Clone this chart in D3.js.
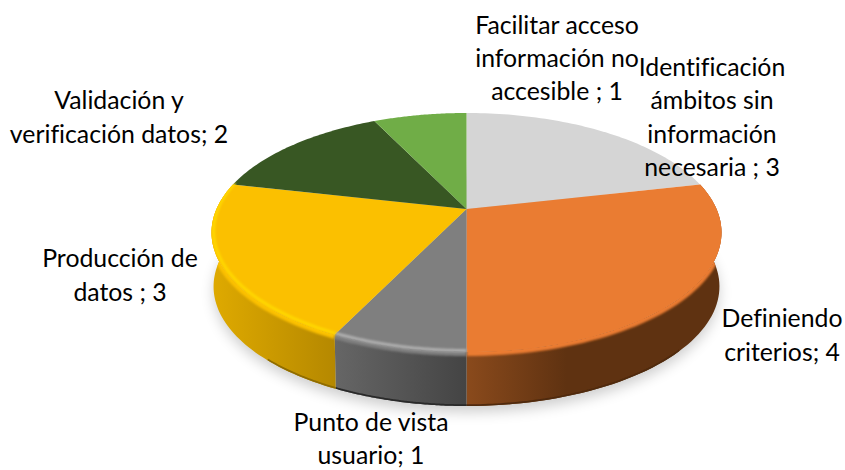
<!DOCTYPE html>
<html>
<head>
<meta charset="utf-8">
<script src="https://cdn.jsdelivr.net/npm/d3@7"></script>
<style>
  html, body { margin: 0; padding: 0; background: #fff; }
  svg { display: block; }
  text { font-family: Lato, "Open Sans", sans-serif; font-size: 24.8px; fill: #000; font-variant-ligatures: none; }
</style>
</head>
<body>
<div id="chart"></div>
<script>
const categories = ['Identificación ámbitos sin información necesaria', 'Definiendo criterios', 'Punto de vista usuario', 'Producción de datos', 'Validación y verificación datos', 'Facilitar acceso información no accesible'];
const values = [3, 4, 1, 3, 2, 1];
const labelLines = [
  ['Identificación', 'ámbitos sin', 'información', 'necesaria ; 3'],
  ['Definiendo', 'criterios; 4'],
  ['Punto de vista', 'usuario; 1'],
  ['Producción de', 'datos ; 3'],
  ['Validación y', 'verificación datos; 2'],
  ['Facilitar acceso', 'información no', 'accesible ; 1']
];
// label block centres, hand placed like in the original
const labelCentres = [[712, 118], [782, 336], [371, 439.5], [120, 276], [119, 118], [557, 59]];
const topColors = ['#d5d5d5', '#ea7c32', '#7f7f7f', '#fbc000', '#385723', '#70ad47'];
const highlightColors = [null, null, '#b0b0b0', '#ffd800', null, null];
const sideColors = [null, ['#8a4a1c', '#5f3211'], ['#666666', '#444444'], ['#dfaa00', '#b58800'], null, null];
const edgeColors = [null, '#4f290d', '#2a2a2a', '#8f6c00', null, null];

const width = 845;
const height = 470;
const svg = d3.select('#chart').append('svg').attr('width', width).attr('height', height);
const defs = svg.append('defs');

// the tilted disc is a perspective projection of a unit circle
const cx = 466.5;
const cy = 209;
const persp = 0.1967;
const scaleX = 250;
const scaleY = 114.9;
const depth = 54;
const bottomShrink = 0.992;

const project = (angle, drop = 0, shrink = 1) => {
  const ux = Math.sin(angle);
  const uy = -Math.cos(angle);
  const w = 1 - persp * uy;
  return [cx + shrink * scaleX * ux / w, cy + scaleY * uy / w + drop];
};

const arcPoints = (a0, a1, drop, shrink) => d3.range(0, 61).map((i) => project(a0 + (a1 - a0) * i / 60, drop, shrink));
const line = d3.line();

const pie = d3.pie().sort(null).value((d) => d);
const slices = pie(values);

const addBlur = (id, amount) => defs.append('filter').attr('id', id)
  .attr('filterUnits', 'userSpaceOnUse').attr('x', 0).attr('y', 0).attr('width', width).attr('height', height)
  .append('feGaussianBlur').attr('stdDeviation', amount);
addBlur('shadow-blur', 7);
addBlur('rim-blur', 1.2);
addBlur('edge-blur', 0.6);

// soft shadow under the disc
svg.append('path')
  .attr('d', line(arcPoints(0, 2 * Math.PI, depth + 6, 0.99)) + 'Z')
  .attr('fill', '#000')
  .attr('opacity', 0.2)
  .attr('filter', 'url(#shadow-blur)');

const visibleFrom = 1.2;
const visibleTo = 2 * Math.PI - 1.2;
const visibleRange = (slice) => [Math.max(slice.startAngle, visibleFrom), Math.min(slice.endAngle, visibleTo)];

// everything of the bevel stays inside the solid shape of the disc
const solidClip = defs.append('clipPath').attr('id', 'solid-clip');
solidClip.append('path').attr('d', line(arcPoints(0, 2 * Math.PI, 0, 1)) + 'Z');

// side walls
slices.forEach((slice, i) => {
  if (!sideColors[i]) return;
  const [a0, a1] = visibleRange(slice);
  const top = arcPoints(a0, a1, 0, 1);
  const bottom = arcPoints(a0, a1, depth, bottomShrink).reverse();
  const outline = line(top.concat(bottom)) + 'Z';
  solidClip.append('path').attr('d', outline);
  const xs = d3.extent(top.concat(bottom), (p) => p[0]);
  const grad = defs.append('linearGradient').attr('id', `side-${i}`).attr('gradientUnits', 'userSpaceOnUse')
    .attr('x1', xs[0]).attr('x2', i === 1 ? xs[0] + 100 : xs[1]).attr('y1', 0).attr('y2', 0);
  grad.append('stop').attr('offset', '0%').attr('stop-color', sideColors[i][0]);
  grad.append('stop').attr('offset', '100%').attr('stop-color', sideColors[i][1]);
  svg.append('path').attr('d', outline).attr('fill', `url(#side-${i})`);
});

const clipped = svg.append('g').attr('clip-path', 'url(#solid-clip)');

// darker line on the lower edge of the wall, only where the wall faces the viewer
const edgeFrom = 2.3;
const edgeTo = 3.9;
slices.forEach((slice, i) => {
  if (!edgeColors[i]) return;
  const a0 = Math.max(slice.startAngle, edgeFrom);
  const a1 = Math.min(slice.endAngle, edgeTo);
  clipped.append('path')
    .attr('d', line(arcPoints(a0, a1, depth - 0.5, bottomShrink)))
    .attr('fill', 'none')
    .attr('stroke', edgeColors[i])
    .attr('stroke-width', 2.5)
    .attr('filter', 'url(#edge-blur)');
});

// bevel band, sits between the face and the wall
slices.forEach((slice, i) => {
  if (!sideColors[i]) return;
  const [a0, a1] = visibleRange(slice);
  clipped.append('path')
    .attr('d', line(arcPoints(a0, a1, 1, 1)))
    .attr('fill', 'none')
    .attr('stroke', topColors[i])
    .attr('stroke-width', 6)
    .attr('filter', 'url(#rim-blur)');
});

// top face
slices.forEach((slice, i) => {
  const pts = [[cx, cy]].concat(arcPoints(slice.startAngle, slice.endAngle, 0, 1));
  svg.append('path').attr('d', line(pts) + 'Z').attr('fill', topColors[i]);
});

// highlight just inside the front edge
slices.forEach((slice, i) => {
  if (!highlightColors[i]) return;
  const [a0, a1] = visibleRange(slice);
  svg.append('g').attr('clip-path', 'url(#solid-clip)').append('path')
    .attr('d', line(arcPoints(a0, a1, -1.5, 0.992)))
    .attr('fill', 'none')
    .attr('stroke', highlightColors[i])
    .attr('stroke-width', 3)
    .attr('filter', 'url(#rim-blur)');
});

// labels
const lineHeight = 33.2;
slices.forEach((slice, i) => {
  const lines = labelLines[i];
  const text = svg.append('text').attr('text-anchor', 'middle');
  lines.forEach((content, j) => {
    text.append('tspan')
      .attr('x', labelCentres[i][0])
      .attr('y', labelCentres[i][1] + (j - (lines.length - 1) / 2) * lineHeight + 8)
      .text(content);
  });
});
</script>
</body>
</html>
